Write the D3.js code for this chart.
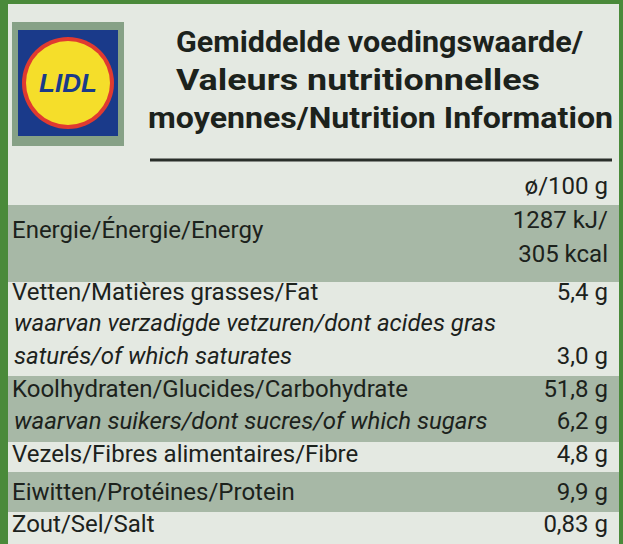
<!DOCTYPE html>
<html><head><meta charset="utf-8">
<script src="https://cdn.jsdelivr.net/npm/d3@7"></script>
<style>body{margin:0;background:#3f7a34}</style></head>
<body><svg id="c" width="623" height="544"></svg>
<script>
const headerLines=["Gemiddelde voedingswaarde/","Valeurs nutritionnelles","moyennes/Nutrition Information"];
const rowLabels=["Energie/Énergie/Energy","Vetten/Matières grasses/Fat","waarvan verzadigde vetzuren/dont acides gras","saturés/of which saturates","Koolhydraten/Glucides/Carbohydrate","waarvan suikers/dont sucres/of which sugars","Vezels/Fibres alimentaires/Fibre","Eiwitten/Protéines/Protein","Zout/Sel/Salt"];
const rowY=[238,300,331,364,397,429,462,500,532];
const rowValues=["","5,4 g","","3,0 g","51,8 g","6,2 g","4,8 g","9,9 g","0,83 g"];
const indent=[0,0,1,1,0,1,0,0,0];
const energyValues=["1287 kJ/","305 kcal"];
const bands=[[205,282],[376,442],[472,512]];
const svg=d3.select("#c");
const x=d3.scaleLinear().domain([0,1]).range([10,608]);
svg.append("rect").attr("x",0).attr("y",0).attr("width",623).attr("height",544).attr("fill","#4a8a3a");
svg.append("rect").attr("x",8).attr("y",4).attr("width",611).attr("height",540).attr("fill","#e4e9e2");
svg.selectAll("rect.b").data(bands).join("rect").attr("class","b").attr("x",8).attr("width",611)
 .attr("y",d=>d[0]).attr("height",d=>d[1]-d[0]).attr("fill","#a7b8a6");
svg.append("rect").attr("x",12).attr("y",22).attr("width",112).attr("height",124).attr("fill","#86a186");
svg.append("rect").attr("x",18).attr("y",30).attr("width",100).attr("height",106).attr("fill","#1a3a8a");
svg.append("circle").attr("cx",68).attr("cy",83).attr("r",46).attr("fill","#e03a30");
svg.append("circle").attr("cx",68).attr("cy",83).attr("r",42).attr("fill","#f5de2a");
svg.append("text").attr("x",68).attr("y",92).attr("text-anchor","middle").attr("font-family","Liberation Sans").attr("font-weight","bold").attr("font-size",26).attr("fill","#1a3a8a").attr("font-style","italic").text("LIDL");
const f="Roboto, 'Liberation Sans Narrow', sans-serif";
svg.selectAll("text.h").data(headerLines).join("text").attr("class","h").attr("x",(d,i)=>[176,176,148][i])
 .attr("y",(d,i)=>52+i*38).attr("font-family",f).attr("font-weight","bold").attr("font-size",30).attr("fill","#1c221c")
 .attr("textLength",(d,i)=>[407,364,465][i]).attr("lengthAdjust","spacingAndGlyphs").text(d=>d);
svg.append("line").attr("x1",150).attr("x2",612).attr("y1",160).attr("y2",160).attr("stroke","#2a2f2a").attr("stroke-width",3);
svg.append("text").attr("x",x(1)).attr("y",194).attr("text-anchor","end").attr("font-family",f).attr("font-size",24).attr("fill","#1c221c").text("ø/100 g");
svg.selectAll("text.l").data(rowLabels).join("text").attr("class","l").attr("x",(d,i)=>indent[i]?14:12).attr("y",(d,i)=>rowY[i])
 .attr("font-family",f).attr("font-size",24).attr("fill","#1c221c").attr("font-style",(d,i)=>indent[i]?"italic":"normal").text(d=>d);
svg.selectAll("text.v").data(rowValues).join("text").attr("class","v").attr("x",x(1)).attr("y",(d,i)=>rowY[i])
 .attr("text-anchor","end").attr("font-family",f).attr("font-size",24).attr("fill","#1c221c").text(d=>d);
svg.selectAll("text.e").data(energyValues).join("text").attr("class","e").attr("x",x(1)).attr("y",(d,i)=>228+i*34)
 .attr("text-anchor","end").attr("font-family",f).attr("font-size",24).attr("fill","#1c221c").text(d=>d);
</script></body></html>
